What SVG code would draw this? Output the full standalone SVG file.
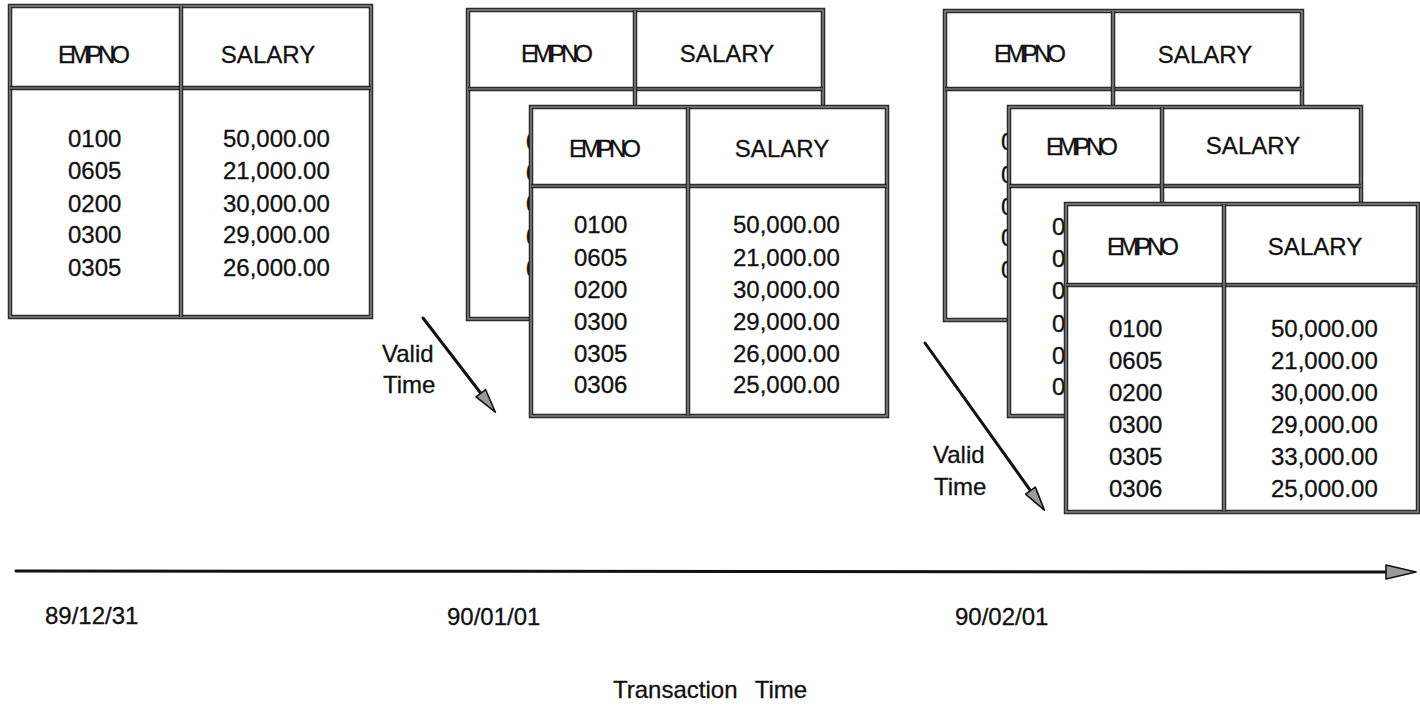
<svg xmlns="http://www.w3.org/2000/svg" width="1420" height="707" viewBox="0 0 1420 707">
<defs>
<style>
.frame{fill:#fff;stroke:#2b2b2b;stroke-width:4.5}
.fin{fill:none;stroke:#9c9c9c;stroke-width:1.2}
.dv{stroke:#2b2b2b;stroke-width:4.5}
.dvi{stroke:#9c9c9c;stroke-width:1.2}
.t{font-family:"Liberation Sans",Arial,Helvetica,sans-serif;font-size:24px;fill:#111;stroke:#111;stroke-width:0.3}
.m{text-anchor:middle}
.ln{stroke:#111;stroke-width:3;fill:none;stroke-linecap:round}
</style>
<marker id="ah" viewBox="0 0 26 14" refX="14" refY="7" markerWidth="26" markerHeight="14" markerUnits="userSpaceOnUse" orient="auto">
<path d="M1,1 L25,7 L1,13 Z" fill="#9a9a9a" stroke="#111" stroke-width="1.6" stroke-linejoin="round"/>
</marker>
<marker id="ah2" viewBox="0 0 32 16" refX="15" refY="8" markerWidth="32" markerHeight="16" markerUnits="userSpaceOnUse" orient="auto">
<path d="M1,1 L31,8 L1,15 Z" fill="#9a9a9a" stroke="#111" stroke-width="1.6" stroke-linejoin="round"/>
</marker>
</defs>
<rect width="1420" height="707" fill="#fff"/>

<g id="table-891231">
<rect class="frame" x="10" y="6" width="361" height="311"/>
<rect class="fin" x="10" y="6" width="361" height="311"/>
<line class="dv" x1="10" y1="88" x2="371" y2="88"/><line class="dvi" x1="10" y1="88" x2="371" y2="88"/>
<line class="dv" x1="181" y1="6" x2="181" y2="317"/><line class="dvi" x1="181" y1="6" x2="181" y2="317"/>
<text class="t m" x="94" y="63" textLength="72" lengthAdjust="spacing">EMPNO</text>
<text class="t m" x="268" y="63">SALARY</text>
<text class="t" x="68" y="147">0100</text><text class="t" x="223" y="147">50,000.00</text>
<text class="t" x="68" y="179">0605</text><text class="t" x="223" y="179">21,000.00</text>
<text class="t" x="68" y="212">0200</text><text class="t" x="223" y="212">30,000.00</text>
<text class="t" x="68" y="243">0300</text><text class="t" x="223" y="243">29,000.00</text>
<text class="t" x="68" y="276">0305</text><text class="t" x="223" y="276">26,000.00</text>
</g>

<g id="table-900101-back">
<rect class="frame" x="468" y="10" width="355" height="309"/>
<rect class="fin" x="468" y="10" width="355" height="309"/>
<line class="dv" x1="468" y1="89" x2="823" y2="89"/><line class="dvi" x1="468" y1="89" x2="823" y2="89"/>
<line class="dv" x1="635" y1="10" x2="635" y2="319"/><line class="dvi" x1="635" y1="10" x2="635" y2="319"/>
<text class="t m" x="557" y="62" textLength="72" lengthAdjust="spacing">EMPNO</text>
<text class="t m" x="727" y="62">SALARY</text>
<text class="t" x="526" y="150">0</text>
<text class="t" x="526" y="181">0</text>
<text class="t" x="526" y="212">0</text>
<text class="t" x="526" y="245">0</text>
<text class="t" x="526" y="277">0</text>
</g>

<g id="table-900101">
<rect class="frame" x="531" y="107" width="356" height="309"/>
<rect class="fin" x="531" y="107" width="356" height="309"/>
<line class="dv" x1="531" y1="186" x2="887" y2="186"/><line class="dvi" x1="531" y1="186" x2="887" y2="186"/>
<line class="dv" x1="688" y1="107" x2="688" y2="416"/><line class="dvi" x1="688" y1="107" x2="688" y2="416"/>
<text class="t m" x="605" y="157" textLength="72" lengthAdjust="spacing">EMPNO</text>
<text class="t m" x="782" y="157">SALARY</text>
<text class="t" x="574" y="233">0100</text><text class="t" x="733" y="233">50,000.00</text>
<text class="t" x="574" y="266">0605</text><text class="t" x="733" y="266">21,000.00</text>
<text class="t" x="574" y="298">0200</text><text class="t" x="733" y="298">30,000.00</text>
<text class="t" x="574" y="330">0300</text><text class="t" x="733" y="330">29,000.00</text>
<text class="t" x="574" y="362">0305</text><text class="t" x="733" y="362">26,000.00</text>
<text class="t" x="574" y="393">0306</text><text class="t" x="733" y="393">25,000.00</text>
</g>

<g id="table-900201-back">
<rect class="frame" x="945" y="11" width="357" height="309"/>
<rect class="fin" x="945" y="11" width="357" height="309"/>
<line class="dv" x1="945" y1="89" x2="1302" y2="89"/><line class="dvi" x1="945" y1="89" x2="1302" y2="89"/>
<line class="dv" x1="1113" y1="11" x2="1113" y2="320"/><line class="dvi" x1="1113" y1="11" x2="1113" y2="320"/>
<text class="t m" x="1030" y="62" textLength="72" lengthAdjust="spacing">EMPNO</text>
<text class="t m" x="1205" y="63">SALARY</text>
<text class="t" x="1001" y="150">0</text>
<text class="t" x="1001" y="183">0</text>
<text class="t" x="1001" y="215">0</text>
<text class="t" x="1001" y="246">0</text>
<text class="t" x="1001" y="278">0</text>
</g>

<g id="table-900201-middle">
<rect class="frame" x="1009" y="107" width="352" height="309"/>
<rect class="fin" x="1009" y="107" width="352" height="309"/>
<line class="dv" x1="1009" y1="186" x2="1361" y2="186"/><line class="dvi" x1="1009" y1="186" x2="1361" y2="186"/>
<line class="dv" x1="1162" y1="107" x2="1162" y2="416"/><line class="dvi" x1="1162" y1="107" x2="1162" y2="416"/>
<text class="t m" x="1082" y="155" textLength="72" lengthAdjust="spacing">EMPNO</text>
<text class="t m" x="1253" y="154">SALARY</text>
<text class="t" x="1052" y="235">0</text>
<text class="t" x="1052" y="267">0</text>
<text class="t" x="1052" y="299">0</text>
<text class="t" x="1052" y="332">0</text>
<text class="t" x="1052" y="364">0</text>
<text class="t" x="1052" y="395">0</text>
</g>

<g id="table-900201">
<rect class="frame" x="1066" y="204" width="352" height="308"/>
<rect class="fin" x="1066" y="204" width="352" height="308"/>
<line class="dv" x1="1066" y1="285" x2="1418" y2="285"/><line class="dvi" x1="1066" y1="285" x2="1418" y2="285"/>
<line class="dv" x1="1224" y1="204" x2="1224" y2="512"/><line class="dvi" x1="1224" y1="204" x2="1224" y2="512"/>
<text class="t m" x="1143" y="255" textLength="72" lengthAdjust="spacing">EMPNO</text>
<text class="t m" x="1315" y="255">SALARY</text>
<text class="t" x="1109" y="337">0100</text><text class="t" x="1271" y="337">50,000.00</text>
<text class="t" x="1109" y="369">0605</text><text class="t" x="1271" y="369">21,000.00</text>
<text class="t" x="1109" y="401">0200</text><text class="t" x="1271" y="401">30,000.00</text>
<text class="t" x="1109" y="433">0300</text><text class="t" x="1271" y="433">29,000.00</text>
<text class="t" x="1109" y="465">0305</text><text class="t" x="1271" y="465">33,000.00</text>
<text class="t" x="1109" y="497">0306</text><text class="t" x="1271" y="497">25,000.00</text>
</g>

<g id="connectors">
<line class="ln" x1="423" y1="318" x2="488.7" y2="403.5" marker-end="url(#ah)"/>
<line class="ln" x1="925" y1="343" x2="1038" y2="501.2" marker-end="url(#ah)"/>
<line class="ln" x1="16" y1="571" x2="1400" y2="572" stroke-width="2.6" marker-end="url(#ah2)"/>
</g>

<g id="labels">
<text class="t" x="382" y="362">Valid</text>
<text class="t" x="383" y="393">Time</text>
<text class="t" x="933" y="463">Valid</text>
<text class="t" x="934" y="495">Time</text>
<text class="t" x="45" y="624">89/12/31</text>
<text class="t" x="447" y="625">90/01/01</text>
<text class="t" x="955" y="625">90/02/01</text>
<text class="t" x="613" y="698" style="word-spacing:11px">Transaction Time</text>
</g>
</svg>
